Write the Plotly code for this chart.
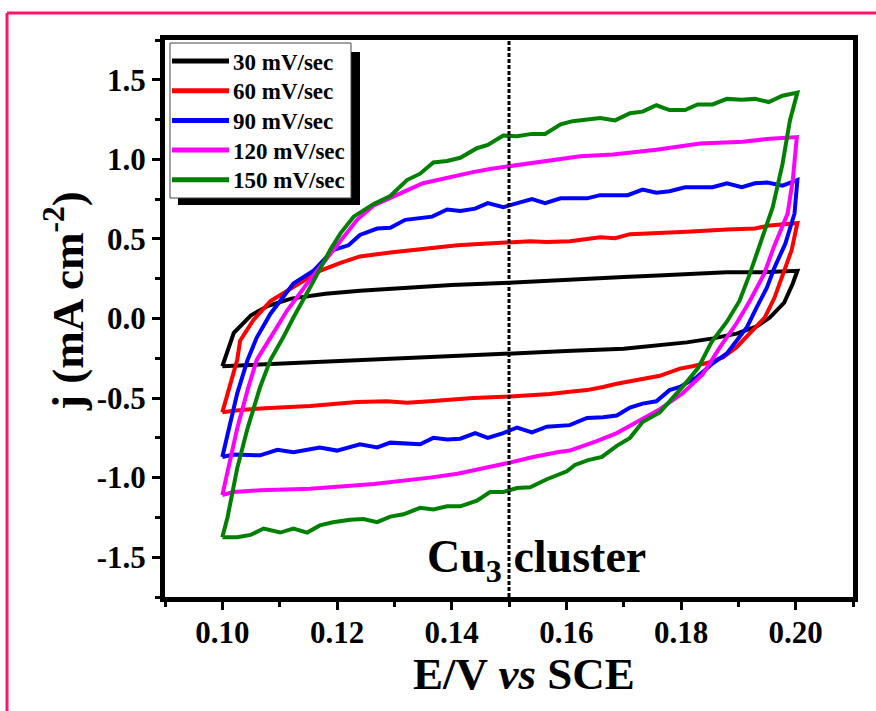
import plotly.graph_objects as go

# ---- cyclic voltammetry loops of the Cu3 cluster at five scan rates ----
scan_rates = ["30 mV/sec", "60 mV/sec", "90 mV/sec", "120 mV/sec", "150 mV/sec"]
colors = ["#000000", "#ff0000", "#0000ff", "#ff00ff", "#008000"]

E_30 = [0.100, 0.102, 0.105, 0.108, 0.112, 0.118, 0.124, 0.130, 0.140, 0.150, 0.160, 0.170,
        0.176, 0.188, 0.194, 0.2003, 0.1995, 0.198, 0.1955, 0.1932, 0.1897, 0.1856, 0.181,
        0.176, 0.170, 0.160, 0.150, 0.140, 0.130, 0.124, 0.115, 0.108, 0.100]
j_30 = [-0.30, -0.09, 0.02, 0.08, 0.125, 0.155, 0.175, 0.19, 0.21, 0.225, 0.245, 0.26,
        0.27, 0.29, 0.29, 0.30, 0.22, 0.10, 0.006, -0.05, -0.095, -0.125, -0.15,
        -0.17, -0.19, -0.205, -0.22, -0.235, -0.25, -0.26, -0.275, -0.285, -0.30]

E_60 = [0.100, 0.1017, 0.1026, 0.1031, 0.1054, 0.1084, 0.1124, 0.117, 0.1206, 0.124, 0.1293,
        0.135, 0.141, 0.1455, 0.1496, 0.1537, 0.1566, 0.1606, 0.1659, 0.1685, 0.1711, 0.1757,
        0.181, 0.188, 0.1929, 0.1955, 0.2003, 0.1993, 0.1977, 0.1963, 0.1946, 0.192, 0.1897,
        0.1873, 0.1845, 0.182, 0.1798, 0.1763, 0.1716, 0.1688, 0.1664, 0.1636, 0.1606, 0.1571,
        0.1502, 0.1437, 0.1362, 0.1322, 0.1287, 0.1235, 0.1153, 0.1066, 0.1019, 0.100]
j_60 = [-0.59, -0.37, -0.26, -0.14, -0.01, 0.11, 0.20, 0.30, 0.35, 0.39, 0.415,
        0.44, 0.46, 0.47, 0.48, 0.485, 0.48, 0.485, 0.51, 0.505, 0.53, 0.535,
        0.545, 0.56, 0.565, 0.585, 0.60, 0.43, 0.26, 0.13, 0.006, -0.095, -0.18,
        -0.245, -0.28, -0.30, -0.315, -0.36, -0.39, -0.41, -0.43, -0.45, -0.46, -0.475,
        -0.49, -0.50, -0.52, -0.53, -0.52, -0.525, -0.55, -0.565, -0.58, -0.59]

E_90 = [0.100, 0.1014, 0.1026, 0.1044, 0.106, 0.1084, 0.1124, 0.1159, 0.1193, 0.122, 0.124,
        0.127, 0.1293, 0.1319, 0.1345, 0.1366, 0.1392, 0.1415, 0.1441, 0.1463, 0.149, 0.1514,
        0.154, 0.1563, 0.159, 0.1636, 0.1659, 0.1707, 0.1733, 0.1757, 0.178, 0.1807, 0.1855,
        0.188, 0.1906, 0.1929, 0.1951, 0.1977, 0.2003,
        0.1998, 0.1982, 0.1963, 0.195, 0.1932, 0.1915, 0.1897, 0.188, 0.1856, 0.1827, 0.1798,
        0.178, 0.1757, 0.1733, 0.1711, 0.1688, 0.1664, 0.1636, 0.1606, 0.1566, 0.154, 0.1514,
        0.149, 0.1463, 0.1441, 0.1415, 0.1392, 0.1368, 0.1345, 0.1293, 0.127, 0.124, 0.120,
        0.117, 0.1124, 0.1096, 0.1066, 0.1037, 0.1019, 0.100]
j_90 = [-0.87, -0.64, -0.47, -0.26, -0.12, 0.03, 0.22, 0.30, 0.43, 0.46, 0.525,
        0.565, 0.57, 0.62, 0.63, 0.64, 0.685, 0.675, 0.69, 0.725, 0.70, 0.725,
        0.75, 0.725, 0.755, 0.755, 0.775, 0.775, 0.81, 0.79, 0.80, 0.825, 0.825,
        0.85, 0.825, 0.85, 0.855, 0.835, 0.87,
        0.66, 0.47, 0.32, 0.195, 0.07, -0.055, -0.14, -0.22, -0.28, -0.37, -0.43,
        -0.45, -0.52, -0.535, -0.56, -0.61, -0.62, -0.625, -0.67, -0.68, -0.715, -0.685,
        -0.72, -0.75, -0.72, -0.755, -0.76, -0.75, -0.79, -0.78, -0.81, -0.79, -0.83,
        -0.81, -0.84, -0.825, -0.86, -0.86, -0.855, -0.87]

E_120 = [0.100, 0.1009, 0.1026, 0.1044, 0.106, 0.1084, 0.1113, 0.1148, 0.1183, 0.1206, 0.1235,
         0.1264, 0.1293, 0.1322, 0.135, 0.138, 0.141, 0.1437, 0.1467, 0.1496, 0.1525, 0.1554,
         0.159, 0.1624, 0.1681, 0.1757, 0.1833, 0.1908, 0.1955, 0.2002,
         0.1995, 0.1986, 0.1962, 0.1945, 0.192, 0.1897, 0.1868, 0.1838, 0.1803, 0.1763, 0.1723,
         0.1688, 0.1653, 0.1606, 0.1584, 0.1542, 0.1496, 0.1455, 0.141, 0.1362, 0.1316, 0.1264,
         0.1206, 0.1153, 0.1066, 0.1019, 0.100]
j_120 = [-1.11, -0.96, -0.69, -0.45, -0.26, -0.12, 0.05, 0.22, 0.38, 0.49, 0.62,
         0.71, 0.76, 0.805, 0.85, 0.875, 0.90, 0.92, 0.94, 0.955, 0.97, 0.99,
         1.005, 1.02, 1.03, 1.06, 1.10, 1.11, 1.13, 1.14,
         0.87, 0.66, 0.45, 0.28, 0.11, -0.03, -0.18, -0.35, -0.47, -0.57, -0.65,
         -0.72, -0.77, -0.83, -0.84, -0.87, -0.91, -0.94, -0.975, -1.00, -1.02, -1.04,
         -1.055, -1.07, -1.08, -1.09, -1.11]

E_150 = [0.100, 0.1009, 0.1026, 0.1044, 0.1066, 0.1084, 0.1106, 0.1124, 0.1153, 0.1188, 0.1206,
         0.1229, 0.1264, 0.1293, 0.1322, 0.1345, 0.1368, 0.1392, 0.1415, 0.1444, 0.1463, 0.149,
         0.1514, 0.154, 0.1563, 0.159, 0.1611, 0.1659, 0.1685, 0.1711, 0.1733, 0.1757, 0.178,
         0.1807, 0.1829, 0.1855, 0.188, 0.1906, 0.1929, 0.1953, 0.1977, 0.2003,
         0.199, 0.1977, 0.196, 0.1942, 0.192, 0.1902, 0.188, 0.1853, 0.183, 0.1805, 0.1786,
         0.1763, 0.1733, 0.1711, 0.1688, 0.1662, 0.1638, 0.1615, 0.1601, 0.1566, 0.1537, 0.1514,
         0.149, 0.1467, 0.1444, 0.1415, 0.1392, 0.1368, 0.1345, 0.1316, 0.1293, 0.127, 0.1246,
         0.1223, 0.1193, 0.117, 0.1148, 0.1124, 0.1101, 0.1072, 0.1049, 0.1026, 0.100]
j_150 = [-1.375, -1.25, -0.94, -0.69, -0.43, -0.26, -0.12, 0.006, 0.195, 0.43, 0.535,
         0.64, 0.72, 0.77, 0.87, 0.91, 0.98, 0.99, 1.01, 1.07, 1.09, 1.15,
         1.145, 1.16, 1.16, 1.22, 1.24, 1.26, 1.245, 1.29, 1.30, 1.34, 1.31,
         1.31, 1.345, 1.345, 1.38, 1.375, 1.38, 1.36, 1.40, 1.42,
         1.245, 0.97, 0.70, 0.51, 0.28, 0.11, -0.02, -0.15, -0.31, -0.42, -0.50,
         -0.59, -0.65, -0.75, -0.80, -0.87, -0.89, -0.92, -0.96, -1.01, -1.06, -1.065,
         -1.09, -1.09, -1.145, -1.18, -1.18, -1.20, -1.19, -1.23, -1.245, -1.28, -1.26,
         -1.265, -1.28, -1.30, -1.345, -1.32, -1.345, -1.32, -1.36, -1.375, -1.375]

x_tickvals = [0.10, 0.12, 0.14, 0.16, 0.18, 0.20]
x_ticktext = ["0.10", "0.12", "0.14", "0.16", "0.18", "0.20"]
y_tickvals = [-1.5, -1.0, -0.5, 0.0, 0.5, 1.0, 1.5]
y_ticktext = ["-1.5", "-1.0", "-0.5", "0.0", "0.5", "1.0", "1.5"]
marker_potential = 0.15

potentials = [E_30, E_60, E_90, E_120, E_150]
currents = [j_30, j_60, j_90, j_120, j_150]

# ---- page geometry (pixels) ----
W, H = 876, 711
PL, PR, PT, PB = 165, 853, 40, 597
FONT = "Liberation Serif, Times New Roman, serif"


def fx(px):
    return (px - PL) / (PR - PL)


def fy(py):
    return (PB - py) / (PB - PT)


fig = go.Figure()
for name, col, E, j in zip(scan_rates, colors, potentials, currents):
    fig.add_trace(go.Scatter(x=E, y=j, mode="lines", name=name,
                             line=dict(color=col, width=4), showlegend=False))

axis_common = dict(showline=True, linecolor="black", linewidth=5, mirror=True,
                   showgrid=False, zeroline=False, ticks="outside", tickwidth=3,
                   ticklen=8, tickcolor="black",
                   tickfont=dict(family=FONT, size=31, color="black", weight="bold"))

fig.update_xaxes(range=[0.09, 0.21], tickvals=x_tickvals, ticktext=x_ticktext,
                 minor=dict(tickvals=[0.09, 0.11, 0.13, 0.15, 0.17, 0.19, 0.21],
                            ticks="outside", ticklen=5, tickwidth=3, tickcolor="black"),
                 ticklabelstandoff=-4, **axis_common)
fig.update_yaxes(range=[-1.75, 1.75], tickvals=y_tickvals, ticktext=y_ticktext,
                 minor=dict(tickvals=[-1.75, -1.25, -0.75, -0.25, 0.25, 0.75, 1.25, 1.75],
                            ticks="outside", ticklen=5, tickwidth=3, tickcolor="black"),
                 ticklabelstandoff=0, **axis_common)

shapes = []
# vertical marker line at 0.15 V
shapes.append(dict(type="line", xref="x", yref="paper", x0=marker_potential, x1=marker_potential,
                   y0=0, y1=1, line=dict(color="black", width=3, dash="4px,2px")))

# outer page border (top and left edges)
shapes.append(dict(type="line", xref="paper", yref="paper", x0=fx(7), x1=fx(900),
                   y0=fy(13), y1=fy(13), line=dict(color="#ff1466", width=3)))
shapes.append(dict(type="line", xref="paper", yref="paper", x0=fx(7), x1=fx(7),
                   y0=fy(13), y1=fy(730), line=dict(color="#ff1466", width=3)))

# legend box with drop shadow
shapes.append(dict(type="rect", xref="paper", yref="paper", layer="above",
                   x0=fx(178), x1=fx(360), y0=fy(52), y1=fy(205),
                   fillcolor="black", line=dict(width=0)))
shapes.append(dict(type="rect", xref="paper", yref="paper", layer="above",
                   x0=fx(170), x1=fx(351), y0=fy(43), y1=fy(198),
                   fillcolor="white", line=dict(color="#444444", width=1)))

annotations = []
row0, row_step = 61, 29.7
for i, (name, col) in enumerate(zip(scan_rates, colors)):
    ry = row0 + i * row_step
    shapes.append(dict(type="line", xref="paper", yref="paper", layer="above",
                       x0=fx(172), x1=fx(229), y0=fy(ry), y1=fy(ry),
                       line=dict(color=col, width=5)))
    annotations.append(dict(text=name, xref="paper", yref="paper", x=fx(231), y=fy(ry + 1),
                            xanchor="left", yanchor="middle", showarrow=False,
                            font=dict(family=FONT, size=23, color="black", weight="bold")))

# axis titles
annotations.append(dict(text="E/V <i>vs</i> SCE", xref="paper", yref="paper",
                        x=fx(524), y=fy(674), xanchor="center", yanchor="middle",
                        showarrow=False,
                        font=dict(family=FONT, size=45, color="black", weight="bold")))
annotations.append(dict(text="j (mA cm<sup>-2</sup>)", xref="paper", yref="paper",
                        x=fx(64), y=fy(301), xanchor="center", yanchor="middle",
                        textangle=-90, showarrow=False,
                        font=dict(family=FONT, size=45, color="black", weight="bold")))
# sample label
annotations.append(dict(text="Cu<sub>3</sub> cluster", xref="paper", yref="paper",
                        x=fx(536), y=fy(560), xanchor="center", yanchor="middle",
                        showarrow=False,
                        font=dict(family=FONT, size=46, color="black", weight="bold")))

fig.update_layout(width=W, height=H, margin=dict(l=PL, r=W - PR, t=PT, b=H - PB),
                  paper_bgcolor="white", plot_bgcolor="white",
                  shapes=shapes, annotations=annotations, showlegend=False)

fig.write_html("out.html")
